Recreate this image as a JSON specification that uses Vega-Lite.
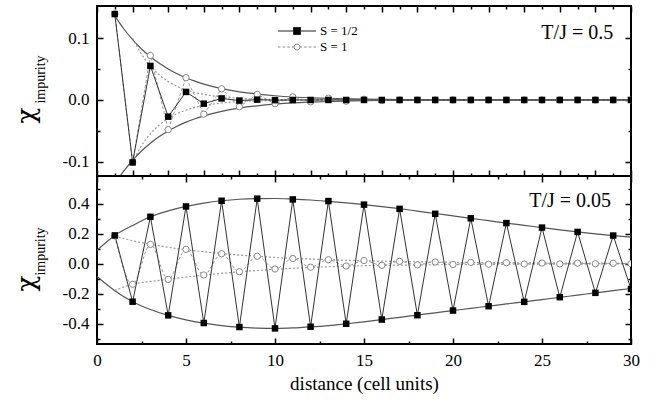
{
"$schema": "https://vega.github.io/schema/vega-lite/v6.json",
"padding": {"left": 12, "top": 4, "right": 20, "bottom": 5},
"background": "white",
"bounds": "flush",
"spacing": 0,
"config": {
  "view": {"stroke": "black", "strokeWidth": 2},
  "font": "Liberation Serif",
  "axis": {"grid": false, "domain": false, "tickColor": "black", "tickWidth": 1.5, "labelFont": "Liberation Serif", "labelFontSize": 17, "labelColor": "black", "titleFont": "Liberation Serif", "titleColor": "black", "titleFontWeight": "normal", "labelFlush": false, "labelOverlap": false}
},
"datasets": {"d": [
{"p":"t","s":"S = 1/2","x":1,"y":0.139},{"p":"t","s":"S = 1/2","x":2,"y":-0.101},{"p":"t","s":"S = 1/2","x":3,"y":0.055},{"p":"t","s":"S = 1/2","x":4,"y":-0.027},{"p":"t","s":"S = 1/2","x":5,"y":0.013},{"p":"t","s":"S = 1/2","x":6,"y":-0.006},{"p":"t","s":"S = 1/2","x":7,"y":0.0025},{"p":"t","s":"S = 1/2","x":8,"y":-0.001},{"p":"t","s":"S = 1/2","x":9,"y":0.0005},{"p":"t","s":"S = 1/2","x":10,"y":-0.0003},
{"p":"t","s":"S = 1/2","x":11,"y":0},{"p":"t","s":"S = 1/2","x":12,"y":0},{"p":"t","s":"S = 1/2","x":13,"y":0},{"p":"t","s":"S = 1/2","x":14,"y":0},{"p":"t","s":"S = 1/2","x":15,"y":0},{"p":"t","s":"S = 1/2","x":16,"y":0},{"p":"t","s":"S = 1/2","x":17,"y":0},{"p":"t","s":"S = 1/2","x":18,"y":0},{"p":"t","s":"S = 1/2","x":19,"y":0},{"p":"t","s":"S = 1/2","x":20,"y":0},
{"p":"t","s":"S = 1/2","x":21,"y":0},{"p":"t","s":"S = 1/2","x":22,"y":0},{"p":"t","s":"S = 1/2","x":23,"y":0},{"p":"t","s":"S = 1/2","x":24,"y":0},{"p":"t","s":"S = 1/2","x":25,"y":0},{"p":"t","s":"S = 1/2","x":26,"y":0},{"p":"t","s":"S = 1/2","x":27,"y":0},{"p":"t","s":"S = 1/2","x":28,"y":0},{"p":"t","s":"S = 1/2","x":29,"y":0},{"p":"t","s":"S = 1/2","x":30,"y":0},
{"p":"t","s":"S = 1","x":1,"y":0.139},{"p":"t","s":"S = 1","x":2,"y":-0.101},{"p":"t","s":"S = 1","x":3,"y":0.072},{"p":"t","s":"S = 1","x":4,"y":-0.048},{"p":"t","s":"S = 1","x":5,"y":0.036},{"p":"t","s":"S = 1","x":6,"y":-0.023},{"p":"t","s":"S = 1","x":7,"y":0.018},{"p":"t","s":"S = 1","x":8,"y":-0.011},{"p":"t","s":"S = 1","x":9,"y":0.009},{"p":"t","s":"S = 1","x":10,"y":-0.006},
{"p":"t","s":"S = 1","x":11,"y":0.005},{"p":"t","s":"S = 1","x":12,"y":-0.003},{"p":"t","s":"S = 1","x":13,"y":0.003},{"p":"t","s":"S = 1","x":14,"y":-0.002},{"p":"t","s":"S = 1","x":15,"y":0.001},{"p":"t","s":"S = 1","x":16,"y":-0.001},{"p":"t","s":"S = 1","x":17,"y":0},{"p":"t","s":"S = 1","x":18,"y":0},{"p":"t","s":"S = 1","x":19,"y":0},{"p":"t","s":"S = 1","x":20,"y":0},
{"p":"t","s":"S = 1","x":21,"y":0},{"p":"t","s":"S = 1","x":22,"y":0},{"p":"t","s":"S = 1","x":23,"y":0},{"p":"t","s":"S = 1","x":24,"y":0},{"p":"t","s":"S = 1","x":25,"y":0},{"p":"t","s":"S = 1","x":26,"y":0},{"p":"t","s":"S = 1","x":27,"y":0},{"p":"t","s":"S = 1","x":28,"y":0},{"p":"t","s":"S = 1","x":29,"y":0},{"p":"t","s":"S = 1","x":30,"y":0},
{"p":"t","s":"su","x":1,"y":0.1361},{"p":"t","s":"su","x":1.5,"y":0.1152},{"p":"t","s":"su","x":2,"y":0.0975},{"p":"t","s":"su","x":2.5,"y":0.0825},{"p":"t","s":"su","x":3,"y":0.0699},{"p":"t","s":"su","x":3.5,"y":0.0592},{"p":"t","s":"su","x":4,"y":0.0501},{"p":"t","s":"su","x":4.5,"y":0.0424},{"p":"t","s":"su","x":5,"y":0.0359},{"p":"t","s":"su","x":5.5,"y":0.0304},{"p":"t","s":"su","x":6,"y":0.0257},{"p":"t","s":"su","x":7,"y":0.0184},{"p":"t","s":"su","x":8,"y":0.0132},{"p":"t","s":"su","x":9,"y":0.0095},{"p":"t","s":"su","x":10,"y":0.0068},{"p":"t","s":"su","x":11,"y":0.0048},{"p":"t","s":"su","x":12,"y":0.0035},{"p":"t","s":"su","x":13,"y":0.0025},{"p":"t","s":"su","x":14,"y":0.0018},{"p":"t","s":"su","x":15,"y":0.0013},{"p":"t","s":"su","x":17,"y":0.0007},{"p":"t","s":"su","x":20,"y":0.0002},{"p":"t","s":"su","x":25,"y":0.0001},{"p":"t","s":"su","x":30,"y":0},
{"p":"t","s":"sl","x":1,"y":-0.1361},{"p":"t","s":"sl","x":1.5,"y":-0.1152},{"p":"t","s":"sl","x":2,"y":-0.0975},{"p":"t","s":"sl","x":2.5,"y":-0.0825},{"p":"t","s":"sl","x":3,"y":-0.0699},{"p":"t","s":"sl","x":3.5,"y":-0.0592},{"p":"t","s":"sl","x":4,"y":-0.0501},{"p":"t","s":"sl","x":4.5,"y":-0.0424},{"p":"t","s":"sl","x":5,"y":-0.0359},{"p":"t","s":"sl","x":5.5,"y":-0.0304},{"p":"t","s":"sl","x":6,"y":-0.0257},{"p":"t","s":"sl","x":7,"y":-0.0184},{"p":"t","s":"sl","x":8,"y":-0.0132},{"p":"t","s":"sl","x":9,"y":-0.0095},{"p":"t","s":"sl","x":10,"y":-0.0068},{"p":"t","s":"sl","x":11,"y":-0.0048},{"p":"t","s":"sl","x":12,"y":-0.0035},{"p":"t","s":"sl","x":13,"y":-0.0025},{"p":"t","s":"sl","x":14,"y":-0.0018},{"p":"t","s":"sl","x":15,"y":-0.0013},{"p":"t","s":"sl","x":17,"y":-0.0007},{"p":"t","s":"sl","x":20,"y":-0.0002},{"p":"t","s":"sl","x":25,"y":-0.0001},{"p":"t","s":"sl","x":30,"y":0},
{"p":"t","s":"du","x":2,"y":0.1},{"p":"t","s":"du","x":2.5,"y":0.0739},{"p":"t","s":"du","x":3,"y":0.0547},{"p":"t","s":"du","x":3.5,"y":0.0405},{"p":"t","s":"du","x":4,"y":0.0299},{"p":"t","s":"du","x":4.5,"y":0.0221},{"p":"t","s":"du","x":5,"y":0.0164},{"p":"t","s":"du","x":5.5,"y":0.0121},{"p":"t","s":"du","x":6,"y":0.009},{"p":"t","s":"du","x":7,"y":0.0049},{"p":"t","s":"du","x":8,"y":0.0027},{"p":"t","s":"du","x":9,"y":0.0015},{"p":"t","s":"du","x":10,"y":0.0008},{"p":"t","s":"du","x":12,"y":0.0002},{"p":"t","s":"du","x":15,"y":0.0001},{"p":"t","s":"du","x":20,"y":0},{"p":"t","s":"du","x":30,"y":0},
{"p":"t","s":"dl","x":2,"y":-0.1},{"p":"t","s":"dl","x":2.5,"y":-0.0739},{"p":"t","s":"dl","x":3,"y":-0.0547},{"p":"t","s":"dl","x":3.5,"y":-0.0405},{"p":"t","s":"dl","x":4,"y":-0.0299},{"p":"t","s":"dl","x":4.5,"y":-0.0221},{"p":"t","s":"dl","x":5,"y":-0.0164},{"p":"t","s":"dl","x":5.5,"y":-0.0121},{"p":"t","s":"dl","x":6,"y":-0.009},{"p":"t","s":"dl","x":7,"y":-0.0049},{"p":"t","s":"dl","x":8,"y":-0.0027},{"p":"t","s":"dl","x":9,"y":-0.0015},{"p":"t","s":"dl","x":10,"y":-0.0008},{"p":"t","s":"dl","x":12,"y":-0.0002},{"p":"t","s":"dl","x":15,"y":-0.0001},{"p":"t","s":"dl","x":20,"y":0},{"p":"t","s":"dl","x":30,"y":0},
{"p":"b","s":"S = 1/2","x":1,"y":0.189},{"p":"b","s":"S = 1/2","x":2,"y":-0.253},{"p":"b","s":"S = 1/2","x":3,"y":0.313},{"p":"b","s":"S = 1/2","x":4,"y":-0.344},{"p":"b","s":"S = 1/2","x":5,"y":0.382},{"p":"b","s":"S = 1/2","x":6,"y":-0.395},{"p":"b","s":"S = 1/2","x":7,"y":0.42},{"p":"b","s":"S = 1/2","x":8,"y":-0.422},{"p":"b","s":"S = 1/2","x":9,"y":0.434},{"p":"b","s":"S = 1/2","x":10,"y":-0.431},
{"p":"b","s":"S = 1/2","x":11,"y":0.429},{"p":"b","s":"S = 1/2","x":12,"y":-0.42},{"p":"b","s":"S = 1/2","x":13,"y":0.418},{"p":"b","s":"S = 1/2","x":14,"y":-0.4},{"p":"b","s":"S = 1/2","x":15,"y":0.394},{"p":"b","s":"S = 1/2","x":16,"y":-0.372},{"p":"b","s":"S = 1/2","x":17,"y":0.366},{"p":"b","s":"S = 1/2","x":18,"y":-0.343},{"p":"b","s":"S = 1/2","x":19,"y":0.333},{"p":"b","s":"S = 1/2","x":20,"y":-0.312},
{"p":"b","s":"S = 1/2","x":21,"y":0.303},{"p":"b","s":"S = 1/2","x":22,"y":-0.283},{"p":"b","s":"S = 1/2","x":23,"y":0.271},{"p":"b","s":"S = 1/2","x":24,"y":-0.254},{"p":"b","s":"S = 1/2","x":25,"y":0.241},{"p":"b","s":"S = 1/2","x":26,"y":-0.223},{"p":"b","s":"S = 1/2","x":27,"y":0.212},{"p":"b","s":"S = 1/2","x":28,"y":-0.194},{"p":"b","s":"S = 1/2","x":29,"y":0.188},{"p":"b","s":"S = 1/2","x":30,"y":-0.168},
{"p":"b","s":"S = 1","x":1,"y":0.185},{"p":"b","s":"S = 1","x":2,"y":-0.137},{"p":"b","s":"S = 1","x":3,"y":0.129},{"p":"b","s":"S = 1","x":4,"y":-0.104},{"p":"b","s":"S = 1","x":5,"y":0.096},{"p":"b","s":"S = 1","x":6,"y":-0.075},{"p":"b","s":"S = 1","x":7,"y":0.067},{"p":"b","s":"S = 1","x":8,"y":-0.053},{"p":"b","s":"S = 1","x":9,"y":0.05},{"p":"b","s":"S = 1","x":10,"y":-0.035},
{"p":"b","s":"S = 1","x":11,"y":0.035},{"p":"b","s":"S = 1","x":12,"y":-0.023},{"p":"b","s":"S = 1","x":13,"y":0.027},{"p":"b","s":"S = 1","x":14,"y":-0.015},{"p":"b","s":"S = 1","x":15,"y":0.021},{"p":"b","s":"S = 1","x":16,"y":-0.01},{"p":"b","s":"S = 1","x":17,"y":0.016},{"p":"b","s":"S = 1","x":18,"y":-0.007},{"p":"b","s":"S = 1","x":19,"y":0.012},{"p":"b","s":"S = 1","x":20,"y":-0.005},
{"p":"b","s":"S = 1","x":21,"y":0.009},{"p":"b","s":"S = 1","x":22,"y":-0.003},{"p":"b","s":"S = 1","x":23,"y":0.007},{"p":"b","s":"S = 1","x":24,"y":-0.002},{"p":"b","s":"S = 1","x":25,"y":0.005},{"p":"b","s":"S = 1","x":26,"y":-0.001},{"p":"b","s":"S = 1","x":27,"y":0.004},{"p":"b","s":"S = 1","x":28,"y":0},{"p":"b","s":"S = 1","x":29,"y":0.003},{"p":"b","s":"S = 1","x":30,"y":0},
{"p":"b","s":"su","x":0,"y":0.09},{"p":"b","s":"su","x":1,"y":0.189},{"p":"b","s":"su","x":2,"y":0.255},{"p":"b","s":"su","x":3,"y":0.313},{"p":"b","s":"su","x":4,"y":0.352},{"p":"b","s":"su","x":5,"y":0.382},{"p":"b","s":"su","x":6,"y":0.404},{"p":"b","s":"su","x":7,"y":0.42},{"p":"b","s":"su","x":8,"y":0.43},{"p":"b","s":"su","x":9,"y":0.434},{"p":"b","s":"su","x":10,"y":0.435},
{"p":"b","s":"su","x":11,"y":0.431},{"p":"b","s":"su","x":12,"y":0.425},{"p":"b","s":"su","x":13,"y":0.416},{"p":"b","s":"su","x":14,"y":0.406},{"p":"b","s":"su","x":15,"y":0.394},{"p":"b","s":"su","x":16,"y":0.381},{"p":"b","s":"su","x":17,"y":0.367},{"p":"b","s":"su","x":18,"y":0.351},{"p":"b","s":"su","x":19,"y":0.335},{"p":"b","s":"su","x":20,"y":0.319},
{"p":"b","s":"su","x":21,"y":0.303},{"p":"b","s":"su","x":22,"y":0.287},{"p":"b","s":"su","x":23,"y":0.271},{"p":"b","s":"su","x":24,"y":0.256},{"p":"b","s":"su","x":25,"y":0.241},{"p":"b","s":"su","x":26,"y":0.226},{"p":"b","s":"su","x":27,"y":0.212},{"p":"b","s":"su","x":28,"y":0.199},{"p":"b","s":"su","x":29,"y":0.188},{"p":"b","s":"su","x":30,"y":0.178},
{"p":"b","s":"sl","x":0,"y":-0.085},{"p":"b","s":"sl","x":1,"y":-0.18},{"p":"b","s":"sl","x":2,"y":-0.253},{"p":"b","s":"sl","x":3,"y":-0.305},{"p":"b","s":"sl","x":4,"y":-0.344},{"p":"b","s":"sl","x":5,"y":-0.374},{"p":"b","s":"sl","x":6,"y":-0.396},{"p":"b","s":"sl","x":7,"y":-0.412},{"p":"b","s":"sl","x":8,"y":-0.423},{"p":"b","s":"sl","x":9,"y":-0.429},{"p":"b","s":"sl","x":10,"y":-0.431},
{"p":"b","s":"sl","x":11,"y":-0.428},{"p":"b","s":"sl","x":12,"y":-0.421},{"p":"b","s":"sl","x":13,"y":-0.412},{"p":"b","s":"sl","x":14,"y":-0.4},{"p":"b","s":"sl","x":15,"y":-0.387},{"p":"b","s":"sl","x":16,"y":-0.372},{"p":"b","s":"sl","x":17,"y":-0.357},{"p":"b","s":"sl","x":18,"y":-0.342},{"p":"b","s":"sl","x":19,"y":-0.327},{"p":"b","s":"sl","x":20,"y":-0.312},
{"p":"b","s":"sl","x":21,"y":-0.297},{"p":"b","s":"sl","x":22,"y":-0.283},{"p":"b","s":"sl","x":23,"y":-0.268},{"p":"b","s":"sl","x":24,"y":-0.254},{"p":"b","s":"sl","x":25,"y":-0.239},{"p":"b","s":"sl","x":26,"y":-0.224},{"p":"b","s":"sl","x":27,"y":-0.209},{"p":"b","s":"sl","x":28,"y":-0.194},{"p":"b","s":"sl","x":29,"y":-0.179},{"p":"b","s":"sl","x":30,"y":-0.165},
{"p":"b","s":"du","x":1,"y":0.185},{"p":"b","s":"du","x":2,"y":0.153},{"p":"b","s":"du","x":3,"y":0.13},{"p":"b","s":"du","x":4,"y":0.11},{"p":"b","s":"du","x":5,"y":0.094},{"p":"b","s":"du","x":6,"y":0.08},{"p":"b","s":"du","x":7,"y":0.068},{"p":"b","s":"du","x":8,"y":0.058},{"p":"b","s":"du","x":9,"y":0.05},{"p":"b","s":"du","x":10,"y":0.042},{"p":"b","s":"du","x":11,"y":0.036},{"p":"b","s":"du","x":12,"y":0.031},{"p":"b","s":"du","x":13,"y":0.027},{"p":"b","s":"du","x":14,"y":0.023},{"p":"b","s":"du","x":15,"y":0.02},{"p":"b","s":"du","x":17,"y":0.015},{"p":"b","s":"du","x":19,"y":0.011},{"p":"b","s":"du","x":21,"y":0.009},{"p":"b","s":"du","x":23,"y":0.007},{"p":"b","s":"du","x":25,"y":0.005},{"p":"b","s":"du","x":27,"y":0.004},{"p":"b","s":"du","x":30,"y":0.003},
{"p":"b","s":"dl","x":1,"y":-0.178},{"p":"b","s":"dl","x":2,"y":-0.137},{"p":"b","s":"dl","x":3,"y":-0.118},{"p":"b","s":"dl","x":4,"y":-0.104},{"p":"b","s":"dl","x":5,"y":-0.089},{"p":"b","s":"dl","x":6,"y":-0.076},{"p":"b","s":"dl","x":7,"y":-0.064},{"p":"b","s":"dl","x":8,"y":-0.054},{"p":"b","s":"dl","x":9,"y":-0.045},{"p":"b","s":"dl","x":10,"y":-0.037},{"p":"b","s":"dl","x":11,"y":-0.03},{"p":"b","s":"dl","x":12,"y":-0.024},{"p":"b","s":"dl","x":13,"y":-0.02},{"p":"b","s":"dl","x":14,"y":-0.016},{"p":"b","s":"dl","x":16,"y":-0.011},{"p":"b","s":"dl","x":18,"y":-0.008},{"p":"b","s":"dl","x":20,"y":-0.006},{"p":"b","s":"dl","x":22,"y":-0.004},{"p":"b","s":"dl","x":24,"y":-0.003},{"p":"b","s":"dl","x":27,"y":-0.002},{"p":"b","s":"dl","x":30,"y":-0.001}
]},
"vconcat": [
{
 "width": 534, "height": 170,
 "data": {"name": "d"},
 "transform": [{"filter": "datum.p === 't'"}],
 "resolve": {"axis": {"x": "independent", "y": "independent"}},
 "layer": [
  {"transform": [{"filter": "datum.s === 'su' || datum.s === 'sl'"}],
   "mark": {"type": "line", "color": "#555", "strokeWidth": 1.2, "interpolate": "monotone", "clip": true},
   "encoding": {
    "x": {"field": "x", "type": "quantitative", "scale": {"domain": [0, 30], "nice": false, "zero": false}, "axis": {"orient": "bottom", "values": [0,2,4,6,8,10,12,14,16,18,20,22,24,26,28,30], "tickSize": -6, "labels": false, "title": null}},
    "y": {"field": "y", "type": "quantitative", "scale": {"domain": [-0.123, 0.152], "nice": false, "zero": false}, "axis": {"orient": "left", "values": [-0.1, 0, 0.1], "tickSize": -6, "labelPadding": 14, "labelFont": "Liberation Serif", "labelFontSize": 17, "labelExpr": "replace(format(datum.value, '.1f'), '\u2212', '-')", "title": "χ", "titleFont": "DejaVu Serif", "titleFontWeight": "normal", "titleFontSize": 26, "titleX": -71, "titleY": 109, "titleAngle": 270, "titleAlign": "center", "titleBaseline": "middle"}},
    "detail": {"field": "s"}}},
  {"transform": [{"filter": "datum.s === 'du' || datum.s === 'dl'"}],
   "mark": {"type": "line", "color": "#999", "strokeWidth": 1.2, "strokeDash": [2, 2], "interpolate": "monotone", "clip": true},
   "encoding": {
    "x": {"field": "x", "type": "quantitative", "scale": {"domain": [0, 30], "nice": false, "zero": false}, "axis": {"orient": "bottom", "values": [1,3,5,7,9,11,13,15,17,19,21,23,25,27,29], "tickSize": -3, "labels": false, "title": null}},
    "y": {"field": "y", "type": "quantitative", "scale": {"domain": [-0.123, 0.152], "nice": false, "zero": false}, "axis": {"orient": "left", "values": [-0.05, 0.05], "tickSize": -3, "labels": false, "title": "impurity", "titleFont": "Liberation Serif", "titleFontWeight": "normal", "titleFontSize": 14, "titleX": -57, "titleY": 73, "titleAngle": 270, "titleAlign": "center", "titleBaseline": "middle"}},
    "detail": {"field": "s"}}},
  {"transform": [{"filter": "datum.s === 'S = 1'"}],
   "mark": {"type": "line", "color": "#999", "strokeWidth": 1, "strokeDash": [3, 2], "clip": true},
   "encoding": {
    "x": {"field": "x", "type": "quantitative", "scale": {"domain": [0, 30], "nice": false, "zero": false}, "axis": {"orient": "top", "values": [0,2,4,6,8,10,12,14,16,18,20,22,24,26,28,30], "tickSize": -6, "labels": false, "title": null}},
    "y": {"field": "y", "type": "quantitative", "scale": {"domain": [-0.123, 0.152], "nice": false, "zero": false}, "axis": {"orient": "right", "values": [-0.1, 0, 0.1], "tickSize": -6, "labels": false, "title": null}}}},
  {"transform": [{"filter": "datum.s === 'S = 1/2'"}],
   "mark": {"type": "line", "color": "#333", "strokeWidth": 1, "clip": true},
   "encoding": {
    "x": {"field": "x", "type": "quantitative", "scale": {"domain": [0, 30], "nice": false, "zero": false}, "axis": {"orient": "top", "values": [1,3,5,7,9,11,13,15,17,19,21,23,25,27,29], "tickSize": -3, "labels": false, "title": null}},
    "y": {"field": "y", "type": "quantitative", "scale": {"domain": [-0.123, 0.152], "nice": false, "zero": false}, "axis": {"orient": "right", "values": [-0.05, 0.05], "tickSize": -3, "labels": false, "title": null}}}},
  {"transform": [{"filter": "datum.s === 'S = 1'"}],
   "mark": {"type": "point", "shape": "circle", "filled": true, "fill": "white", "stroke": "#888", "strokeWidth": 1, "size": 40, "opacity": 1, "clip": true},
   "encoding": {
    "x": {"field": "x", "type": "quantitative", "scale": {"domain": [0, 30], "nice": false, "zero": false}, "axis": null},
    "y": {"field": "y", "type": "quantitative", "scale": {"domain": [-0.123, 0.152], "nice": false, "zero": false}, "axis": null}}},
  {"transform": [{"filter": "datum.s === 'S = 1/2'"}],
   "mark": {"type": "point", "shape": "square", "filled": true, "color": "black", "size": 42, "opacity": 1, "clip": true},
   "encoding": {
    "x": {"field": "x", "type": "quantitative", "scale": {"domain": [0, 30], "nice": false, "zero": false}, "axis": null},
    "y": {"field": "y", "type": "quantitative", "scale": {"domain": [-0.123, 0.152], "nice": false, "zero": false}, "axis": null}}},
  {"data": {"values": [{"label": "T/J = 0.5", "x": 29, "y": 0.109}]},
   "mark": {"type": "text", "font": "Liberation Serif", "fontSize": 20, "align": "right", "baseline": "middle", "color": "black"},
   "encoding": {
    "text": {"field": "label"},
    "x": {"field": "x", "type": "quantitative", "scale": {"domain": [0, 30], "nice": false, "zero": false}, "axis": null},
    "y": {"field": "y", "type": "quantitative", "scale": {"domain": [-0.123, 0.152], "nice": false, "zero": false}, "axis": null}}},
  {"transform": [{"filter": "false"}],
   "mark": {"type": "point", "filled": true, "opacity": 1},
   "encoding": {
    "x": {"field": "x", "type": "quantitative", "scale": {"domain": [0, 30], "nice": false, "zero": false}, "axis": null},
    "y": {"field": "y", "type": "quantitative", "scale": {"domain": [-0.123, 0.152], "nice": false, "zero": false}, "axis": null},
    "shape": {"field": "s", "type": "nominal", "scale": {"domain": ["S = 1/2", "S = 1"], "range": ["M-2.24,0H-0.41M0.41,0H2.24M-0.41,-0.41H0.41V0.41H-0.41Z", "M-2.24,0H-1.94M-1.69,0H-1.39M-1.14,0H-0.84M-0.59,0H-0.36M0.36,0H0.59M0.84,0H1.14M1.39,0H1.69M1.94,0H2.24M0.35,0A0.35,0.35 0 1,1 -0.35,0A0.35,0.35 0 1,1 0.35,0Z"]},
      "legend": {"orient": "none", "legendX": 191, "legendY": 16, "title": null, "symbolSize": 289, "symbolStrokeWidth": 1, "labelFont": "Liberation Serif", "labelFontSize": 13, "labelOffset": 14, "rowPadding": -1, "labelColor": "black"}},
    "fill": {"field": "s", "type": "nominal", "scale": {"domain": ["S = 1/2", "S = 1"], "range": ["black", "white"]},
      "legend": {"orient": "none", "legendX": 191, "legendY": 16, "title": null, "symbolSize": 289, "symbolStrokeWidth": 1, "labelFont": "Liberation Serif", "labelFontSize": 13, "labelOffset": 14, "rowPadding": -1, "labelColor": "black"}},
    "stroke": {"field": "s", "type": "nominal", "scale": {"domain": ["S = 1/2", "S = 1"], "range": ["#222", "#888"]},
      "legend": {"orient": "none", "legendX": 191, "legendY": 16, "title": null, "symbolSize": 289, "symbolStrokeWidth": 1, "labelFont": "Liberation Serif", "labelFontSize": 13, "labelOffset": 14, "rowPadding": -1, "labelColor": "black"}}}}
 ]
},
{
 "width": 534, "height": 168,
 "data": {"name": "d"},
 "transform": [{"filter": "datum.p === 'b'"}],
 "resolve": {"axis": {"x": "independent", "y": "independent"}},
 "layer": [
  {"transform": [{"filter": "datum.s === 'su' || datum.s === 'sl'"}],
   "mark": {"type": "line", "color": "#555", "strokeWidth": 1.2, "interpolate": "monotone", "clip": true},
   "encoding": {
    "x": {"field": "x", "type": "quantitative", "scale": {"domain": [0, 30], "nice": false, "zero": false}, "axis": {"orient": "bottom", "values": [0,5,10,15,20,25,30], "format": "d", "tickSize": -6, "labelPadding": 14, "labelFont": "Liberation Serif", "labelFontSize": 17, "title": "distance (cell units)", "titleFont": "Liberation Serif", "titleFontWeight": "normal", "titleFontSize": 19, "titlePadding": 6}},
    "y": {"field": "y", "type": "quantitative", "scale": {"domain": [-0.535, 0.585], "nice": false, "zero": false}, "axis": {"orient": "left", "values": [-0.4, -0.2, 0, 0.2, 0.4], "tickSize": -6, "labelPadding": 14, "labelFont": "Liberation Serif", "labelFontSize": 17, "labelExpr": "replace(format(datum.value, '.1f'), '\u2212', '-')", "title": "χ", "titleFont": "DejaVu Serif", "titleFontWeight": "normal", "titleFontSize": 26, "titleX": -71, "titleY": 107, "titleAngle": 270, "titleAlign": "center", "titleBaseline": "middle"}},
    "detail": {"field": "s"}}},
  {"transform": [{"filter": "datum.s === 'du' || datum.s === 'dl'"}],
   "mark": {"type": "line", "color": "#999", "strokeWidth": 1.2, "strokeDash": [2, 2], "interpolate": "monotone", "clip": true},
   "encoding": {
    "x": {"field": "x", "type": "quantitative", "scale": {"domain": [0, 30], "nice": false, "zero": false}, "axis": {"orient": "bottom", "values": [2.5,7.5,12.5,17.5,22.5,27.5], "tickSize": -3, "labels": false, "title": null}},
    "y": {"field": "y", "type": "quantitative", "scale": {"domain": [-0.535, 0.585], "nice": false, "zero": false}, "axis": {"orient": "left", "values": [-0.5, -0.3, -0.1, 0.1, 0.3, 0.5], "tickSize": -3, "labels": false, "title": "impurity", "titleFont": "Liberation Serif", "titleFontWeight": "normal", "titleFontSize": 14, "titleX": -57, "titleY": 75, "titleAngle": 270, "titleAlign": "center", "titleBaseline": "middle"}},
    "detail": {"field": "s"}}},
  {"transform": [{"filter": "datum.s === 'S = 1'"}],
   "mark": {"type": "line", "color": "#999", "strokeWidth": 1, "strokeDash": [3, 2], "interpolate": "monotone", "clip": true},
   "encoding": {
    "x": {"field": "x", "type": "quantitative", "scale": {"domain": [0, 30], "nice": false, "zero": false}, "axis": {"orient": "top", "values": [0,5,10,15,20,25,30], "tickSize": -6, "labels": false, "title": null}},
    "y": {"field": "y", "type": "quantitative", "scale": {"domain": [-0.535, 0.585], "nice": false, "zero": false}, "axis": {"orient": "right", "values": [-0.4, -0.2, 0, 0.2, 0.4], "tickSize": -6, "labels": false, "title": null}}}},
  {"transform": [{"filter": "datum.s === 'S = 1/2'"}],
   "mark": {"type": "line", "color": "#333", "strokeWidth": 1, "clip": true},
   "encoding": {
    "x": {"field": "x", "type": "quantitative", "scale": {"domain": [0, 30], "nice": false, "zero": false}, "axis": {"orient": "top", "values": [2.5,7.5,12.5,17.5,22.5,27.5], "tickSize": -3, "labels": false, "title": null}},
    "y": {"field": "y", "type": "quantitative", "scale": {"domain": [-0.535, 0.585], "nice": false, "zero": false}, "axis": {"orient": "right", "values": [-0.5, -0.3, -0.1, 0.1, 0.3, 0.5], "tickSize": -3, "labels": false, "title": null}}}},
  {"transform": [{"filter": "datum.s === 'S = 1'"}],
   "mark": {"type": "point", "shape": "circle", "filled": true, "fill": "white", "stroke": "#888", "strokeWidth": 1, "size": 40, "opacity": 1, "clip": true},
   "encoding": {
    "x": {"field": "x", "type": "quantitative", "scale": {"domain": [0, 30], "nice": false, "zero": false}, "axis": null},
    "y": {"field": "y", "type": "quantitative", "scale": {"domain": [-0.535, 0.585], "nice": false, "zero": false}, "axis": null}}},
  {"transform": [{"filter": "datum.s === 'S = 1/2'"}],
   "mark": {"type": "point", "shape": "square", "filled": true, "color": "black", "size": 42, "opacity": 1, "clip": true},
   "encoding": {
    "x": {"field": "x", "type": "quantitative", "scale": {"domain": [0, 30], "nice": false, "zero": false}, "axis": null},
    "y": {"field": "y", "type": "quantitative", "scale": {"domain": [-0.535, 0.585], "nice": false, "zero": false}, "axis": null}}},
  {"data": {"values": [{"label": "T/J = 0.05", "x": 28.88, "y": 0.418}]},
   "mark": {"type": "text", "font": "Liberation Serif", "fontSize": 20, "align": "right", "baseline": "middle", "color": "black"},
   "encoding": {
    "text": {"field": "label"},
    "x": {"field": "x", "type": "quantitative", "scale": {"domain": [0, 30], "nice": false, "zero": false}, "axis": null},
    "y": {"field": "y", "type": "quantitative", "scale": {"domain": [-0.535, 0.585], "nice": false, "zero": false}, "axis": null}}}
 ]
}
]
}
